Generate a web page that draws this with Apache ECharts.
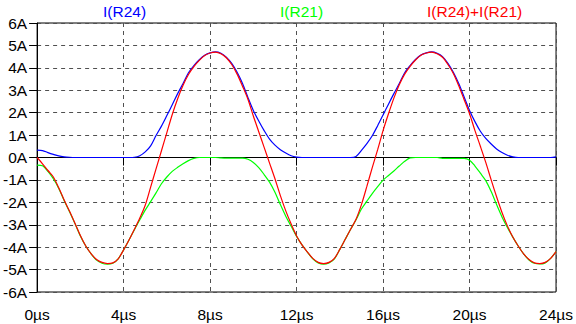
<!DOCTYPE html>
<html>
<head>
<meta charset="utf-8">
<script src="https://cdn.jsdelivr.net/npm/echarts@6/dist/echarts.min.js"></script>
<style>
html,body{margin:0;padding:0;background:#fff;}
#chart{width:576px;height:324px;}
</style>
</head>
<body>
<div id="chart"></div>
<script>
// time samples in µs
var timeUs = [0,0.25,0.5,0.75,1,1.25,1.5,1.75,2,2.25,2.5,2.75,3,3.25,3.5,3.75,4,4.25,4.5,4.75,5,5.25,5.5,5.75,6,6.25,6.5,6.75,7,7.25,7.5,7.75,8,8.25,8.5,8.75,9,9.25,9.5,9.75,10,10.25,10.5,10.75,11,11.25,11.5,11.75,12,12.25,12.5,12.75,13,13.25,13.5,13.75,14,14.25,14.5,14.75,15,15.25,15.5,15.75,16,16.25,16.5,16.75,17,17.25,17.5,17.75,18,18.25,18.5,18.75,19,19.25,19.5,19.75,20,20.25,20.5,20.75,21,21.25,21.5,21.75,22,22.25,22.5,22.75,23,23.25,23.5,23.75,24];

var iR24 = [0.33,0.31,0.22,0.14,0.07,0.03,0.01,0,0,0,0,0,0,0,0,0,0,0,0.01,0.08,0.25,0.52,0.98,1.4,1.87,2.35,2.85,3.3,3.78,4.1,4.36,4.56,4.67,4.71,4.65,4.48,4.2,3.8,3.3,2.68,2.1,1.63,1.2,0.82,0.55,0.35,0.2,0.08,0.02,0,0,0,0,0,0,0,0,0,0,0.05,0.32,0.62,0.97,1.42,1.9,2.38,2.85,3.3,3.78,4.1,4.37,4.57,4.67,4.71,4.65,4.5,4.2,3.8,3.3,2.7,2.1,1.6,1.17,0.85,0.6,0.38,0.22,0.1,0.03,0,0,0,0,0,0,0,0.03];

var iR21 = [-0.34,-0.37,-0.62,-0.95,-1.38,-1.92,-2.42,-2.95,-3.5,-3.95,-4.3,-4.58,-4.72,-4.76,-4.72,-4.52,-4.12,-3.68,-3.22,-2.78,-2.35,-1.97,-1.58,-1.17,-0.87,-0.62,-0.44,-0.28,-0.14,-0.04,0,0,0,0,-0.02,-0.03,-0.03,-0.03,-0.03,-0.08,-0.22,-0.45,-0.76,-1.1,-1.55,-2.1,-2.62,-3.07,-3.52,-3.9,-4.22,-4.52,-4.7,-4.76,-4.7,-4.52,-4.1,-3.65,-3.2,-2.78,-2.3,-1.95,-1.61,-1.3,-1.01,-0.8,-0.6,-0.38,-0.17,-0.02,0,0,0,0,0,-0.04,-0.04,-0.04,-0.04,-0.04,-0.12,-0.38,-0.7,-1.03,-1.52,-2.1,-2.65,-3.12,-3.55,-3.95,-4.3,-4.57,-4.72,-4.75,-4.7,-4.5,-4.2];

var iSum = [0,-0.28,-0.58,-0.87,-1.35,-1.9,-2.4,-2.93,-3.48,-3.95,-4.3,-4.55,-4.68,-4.73,-4.7,-4.52,-4.12,-3.68,-3.2,-2.7,-2.13,-1.32,-0.51,0.3,1.11,1.92,2.62,3.22,3.7,4.05,4.33,4.55,4.66,4.7,4.63,4.45,4.15,3.72,3.18,2.6,1.85,1.15,0.45,-0.25,-0.95,-1.7,-2.38,-2.97,-3.5,-3.9,-4.22,-4.5,-4.68,-4.73,-4.68,-4.5,-4.1,-3.65,-3.2,-2.75,-2.1,-1.29,-0.45,0.35,1.2,1.95,2.65,3.25,3.72,4.07,4.35,4.56,4.66,4.7,4.63,4.47,4.15,3.75,3.2,2.58,1.95,1.2,0.5,-0.22,-1,-1.75,-2.45,-3.05,-3.55,-3.95,-4.3,-4.55,-4.7,-4.73,-4.68,-4.5,-4.2];

var seriesNames = ['I(R24)', 'I(R21)', 'I(R24)+I(R21)'];
var seriesColors = ['#0000ff', '#00ff00', '#ff0000'];
var seriesValues = [iR24, iR21, iSum];
var xTicks = {min: 0, max: 24, step: 4, unit: 'µs'};
var yTicks = {min: -6, max: 6, step: 1, unit: 'A'};

function pairs(ts, vs) {
  var out = [];
  for (var i = 0; i < ts.length; i++) out.push([ts[i], vs[i]]);
  return out;
}

var chart = echarts.init(document.getElementById('chart'), null, {renderer: 'svg'});
var font = 'Liberation Sans, Arial, sans-serif';
var legendLefts = [98, 275, 422];

var option = {
  animation: false,
  backgroundColor: '#ffffff',
  grid: {left: 36, right: 19, top: 23, bottom: 32, show: true, borderColor: '#000', borderWidth: 1, backgroundColor: 'transparent'},
  legend: seriesNames.map(function (n, i) {
    return {
      data: [{name: n, icon: 'none'}],
      left: legendLefts[i], top: 3,
      itemWidth: 0, itemHeight: 0, itemGap: 0, padding: 0,
      selectedMode: false,
      textStyle: {color: seriesColors[i], fontFamily: font, fontSize: 15.5}
    };
  }),
  xAxis: {
    type: 'value', min: xTicks.min, max: xTicks.max, interval: xTicks.step,
    axisLine: {show: true, lineStyle: {color: '#000', width: 1}},
    axisTick: {show: true, length: 8, lineStyle: {color: '#000'}},
    axisLabel: {color: '#000', fontFamily: font, fontSize: 15.5, margin: 14,
      formatter: function (v) { return v + xTicks.unit; }},
    splitLine: {show: true, lineStyle: {color: '#505050', type: [4, 4], width: 1}}
  },
  yAxis: {
    type: 'value', min: yTicks.min, max: yTicks.max, interval: yTicks.step,
    axisLine: {show: true, onZero: false, lineStyle: {color: '#000', width: 1}},
    axisTick: {show: true, length: 8, lineStyle: {color: '#000'}},
    axisLabel: {color: '#000', fontFamily: font, fontSize: 15.5, margin: 10,
      formatter: function (v) { return v + yTicks.unit; }},
    splitLine: {show: true, lineStyle: {color: '#505050', type: [4, 4], width: 1}}
  },
  series: seriesNames.map(function (n, i) {
    return {
      name: n, type: 'line', data: pairs(timeUs, seriesValues[i]),
      showSymbol: false, smooth: 0.3, z: 2 + i,
      lineStyle: {color: seriesColors[i], width: 1.2},
      itemStyle: {color: seriesColors[i]}
    };
  })
};
chart.setOption(option);
</script>
</body>
</html>
